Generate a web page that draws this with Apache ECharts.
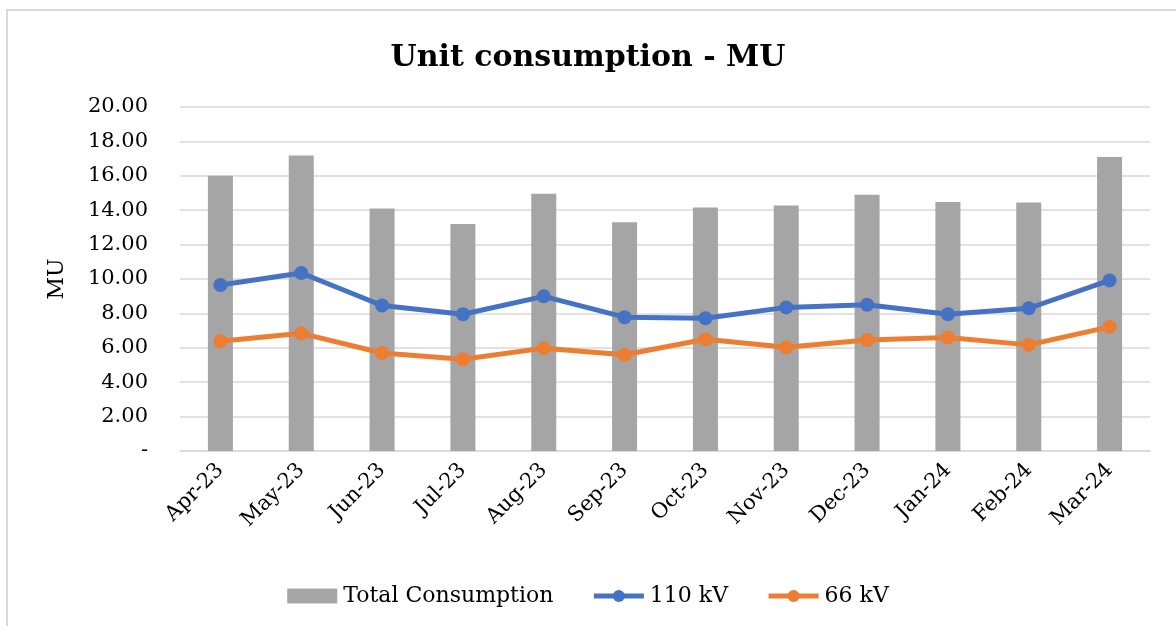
<!DOCTYPE html>
<html><head><meta charset="utf-8">
<script src="https://cdn.jsdelivr.net/npm/echarts@6/dist/echarts.min.js"></script>
<style>html,body{margin:0;padding:0;background:#fff}#c{width:1176px;height:626px}</style>
</head><body><div id="c"></div>
<script>
const categories = ['Apr-23','May-23','Jun-23','Jul-23','Aug-23','Sep-23','Oct-23','Nov-23','Dec-23','Jan-24','Feb-24','Mar-24'];
const totalConsumption = [16.0, 17.18, 14.1, 13.2, 14.96, 13.3, 14.15, 14.28, 14.9, 14.48, 14.45, 17.1];
const kv110 = [9.65, 10.35, 8.46, 7.95, 8.99, 7.78, 7.72, 8.35, 8.5, 7.95, 8.3, 9.92];
const kv66 = [6.38, 6.84, 5.7, 5.33, 5.98, 5.6, 6.5, 6.03, 6.45, 6.6, 6.17, 7.22];
const yTicks = {min: 0, max: 20, interval: 2};
const font = '"DejaVu Serif", "Liberation Serif", serif';
const chart = echarts.init(document.getElementById('c'));
chart.setOption({
  backgroundColor: '#fff',
  animation: false,
  graphic: [{type: 'rect', shape: {x: 7, y: 10, width: 1200, height: 700}, style: {fill: 'none', stroke: '#d9d9d9', lineWidth: 2}, silent: true}],
  title: {text: 'Unit consumption - MU', left: 'center', top: 38,
    textStyle: {fontFamily: font, fontSize: 30, fontWeight: 'bold', color: '#000'}},
  legend: {top: 580, left: 'center', itemGap: 38, itemWidth: 50, itemHeight: 15,
    textStyle: {fontFamily: font, fontSize: 22, color: '#000', padding: [0, 0, 0, 1]},
    data: [{name: 'Total Consumption', icon: 'rect'},
           {name: '110 kV', lineStyle: {width: 5}},
           {name: '66 kV', lineStyle: {width: 5}}]},
  grid: {left: 180, right: 26, top: 107, bottom: 175},
  xAxis: {type: 'category', data: categories,
    axisLine: {lineStyle: {color: '#d9d9d9', width: 1.5}}, axisTick: {show: false},
    axisLabel: {rotate: 45, fontFamily: font, fontSize: 21, color: '#000', margin: 16}},
  yAxis: {type: 'value', min: yTicks.min, max: yTicks.max, interval: yTicks.interval,
    name: 'MU', nameLocation: 'middle', nameGap: 112, nameRotate: 90,
    nameTextStyle: {fontFamily: font, fontSize: 22, color: '#000'},
    axisLine: {show: false}, axisTick: {show: false},
    axisLabel: {fontFamily: font, fontSize: 21, color: '#000', margin: 32,
      formatter: v => v === 0 ? '-' : v.toFixed(2)},
    splitLine: {lineStyle: {color: '#d9d9d9', width: 1.5}}},
  series: [
    {name: 'Total Consumption', type: 'bar', data: totalConsumption, barWidth: 25,
      itemStyle: {color: '#a5a5a5'}, z: 1},
    {name: '110 kV', type: 'line', data: kv110, symbol: 'circle', symbolSize: 14,
      lineStyle: {color: '#4472c4', width: 5}, itemStyle: {color: '#4472c4'}, z: 3},
    {name: '66 kV', type: 'line', data: kv66, symbol: 'circle', symbolSize: 14,
      lineStyle: {color: '#ed7d31', width: 5}, itemStyle: {color: '#ed7d31'}, z: 3}
  ]
});
</script></body></html>
